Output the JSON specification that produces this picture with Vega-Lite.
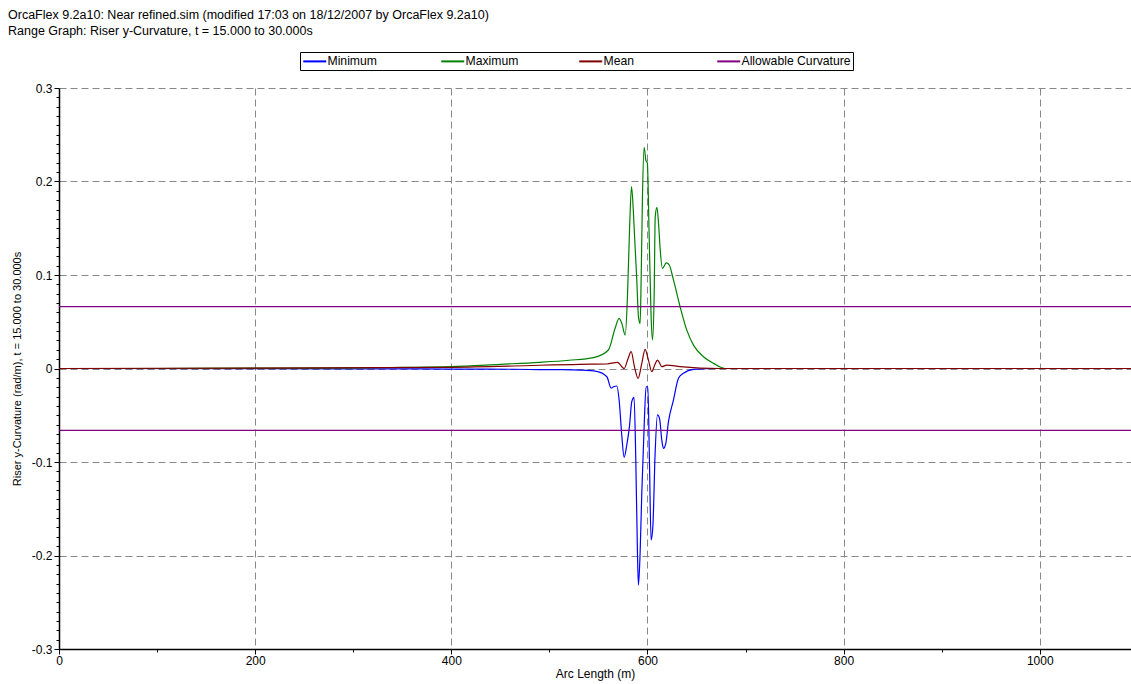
{
  "$schema": "https://vega.github.io/schema/vega-lite/v6.json",
  "width": 1072,
  "height": 561,
  "autosize": "none",
  "padding": {"left": 59, "top": 88, "right": 0, "bottom": 35},
  "background": "white",
  "config": {"font": "Liberation Sans", "view": {"stroke": null}},
  "title": {
    "text": ["OrcaFlex 9.2a10: Near refined.sim (modified 17:03 on 18/12/2007 by OrcaFlex 9.2a10)", "Range Graph: Riser y-Curvature, t = 15.000 to 30.000s"],
    "anchor": "start", "frame": "group", "dx": -51, "offset": 14,
    "fontSize": 12.5, "fontWeight": "normal", "lineHeight": 16, "color": "black", "font": "Liberation Sans"
  },
  "data": {"values": [
    {"series": "Minimum", "p": "min", "x": 0, "y": 0},
    {"series": "Minimum", "p": "min", "x": 200, "y": -0.0001},
    {"series": "Minimum", "p": "min", "x": 300, "y": -0.0003},
    {"series": "Minimum", "p": "min", "x": 400, "y": -0.0006},
    {"series": "Minimum", "p": "min", "x": 463, "y": -0.0008},
    {"series": "Minimum", "p": "min", "x": 490, "y": -0.0012},
    {"series": "Minimum", "p": "min", "x": 514, "y": -0.0013},
    {"series": "Minimum", "p": "min", "x": 531, "y": -0.0017},
    {"series": "Minimum", "p": "min", "x": 548, "y": -0.003},
    {"series": "Minimum", "p": "min", "x": 558.6, "y": -0.0088},
    {"series": "Minimum", "p": "min", "x": 563, "y": -0.021},
    {"series": "Minimum", "p": "min", "x": 565.4, "y": -0.0195},
    {"series": "Minimum", "p": "min", "x": 568.8, "y": -0.0187},
    {"series": "Minimum", "p": "min", "x": 571.1, "y": -0.0337},
    {"series": "Minimum", "p": "min", "x": 573.9, "y": -0.073},
    {"series": "Minimum", "p": "min", "x": 576.2, "y": -0.095},
    {"series": "Minimum", "p": "min", "x": 578.9, "y": -0.0818},
    {"series": "Minimum", "p": "min", "x": 581.6, "y": -0.0622},
    {"series": "Minimum", "p": "min", "x": 584, "y": -0.0355},
    {"series": "Minimum", "p": "min", "x": 586.3, "y": -0.0308},
    {"series": "Minimum", "p": "min", "x": 588.1, "y": -0.0979},
    {"series": "Minimum", "p": "min", "x": 589.8, "y": -0.1977},
    {"series": "Minimum", "p": "min", "x": 590.8, "y": -0.2316},
    {"series": "Minimum", "p": "min", "x": 592.5, "y": -0.197},
    {"series": "Minimum", "p": "min", "x": 594.2, "y": -0.1335},
    {"series": "Minimum", "p": "min", "x": 596.6, "y": -0.0622},
    {"series": "Minimum", "p": "min", "x": 598.6, "y": -0.0195},
    {"series": "Minimum", "p": "min", "x": 600.4, "y": -0.0195},
    {"series": "Minimum", "p": "min", "x": 602, "y": -0.098},
    {"series": "Minimum", "p": "min", "x": 603.7, "y": -0.1834},
    {"series": "Minimum", "p": "min", "x": 605.5, "y": -0.169},
    {"series": "Minimum", "p": "min", "x": 607.8, "y": -0.0907},
    {"series": "Minimum", "p": "min", "x": 610.2, "y": -0.0497},
    {"series": "Minimum", "p": "min", "x": 612.3, "y": -0.0533},
    {"series": "Minimum", "p": "min", "x": 614.6, "y": -0.0765},
    {"series": "Minimum", "p": "min", "x": 616.3, "y": -0.0854},
    {"series": "Minimum", "p": "min", "x": 618.7, "y": -0.08},
    {"series": "Minimum", "p": "min", "x": 621.4, "y": -0.0569},
    {"series": "Minimum", "p": "min", "x": 626.5, "y": -0.0337},
    {"series": "Minimum", "p": "min", "x": 631.6, "y": -0.0105},
    {"series": "Minimum", "p": "min", "x": 636.7, "y": -0.0051},
    {"series": "Minimum", "p": "min", "x": 647, "y": -0.0009},
    {"series": "Minimum", "p": "min", "x": 670, "y": 0},
    {"series": "Minimum", "p": "min", "x": 1093, "y": 0},
    {"series": "Maximum", "p": "max", "x": 0, "y": 0},
    {"series": "Maximum", "p": "max", "x": 100, "y": 0},
    {"series": "Maximum", "p": "max", "x": 200, "y": 0.0003},
    {"series": "Maximum", "p": "max", "x": 300, "y": 0.0007},
    {"series": "Maximum", "p": "max", "x": 350, "y": 0.0012},
    {"series": "Maximum", "p": "max", "x": 400, "y": 0.002},
    {"series": "Maximum", "p": "max", "x": 450, "y": 0.0045},
    {"series": "Maximum", "p": "max", "x": 490, "y": 0.0066},
    {"series": "Maximum", "p": "max", "x": 520, "y": 0.0088},
    {"series": "Maximum", "p": "max", "x": 545, "y": 0.0116},
    {"series": "Maximum", "p": "max", "x": 560.2, "y": 0.0198},
    {"series": "Maximum", "p": "max", "x": 567, "y": 0.043},
    {"series": "Maximum", "p": "max", "x": 571.1, "y": 0.0537},
    {"series": "Maximum", "p": "max", "x": 573.9, "y": 0.048},
    {"series": "Maximum", "p": "max", "x": 577.3, "y": 0.0358},
    {"series": "Maximum", "p": "max", "x": 579.6, "y": 0.077},
    {"series": "Maximum", "p": "max", "x": 581.7, "y": 0.148},
    {"series": "Maximum", "p": "max", "x": 583.7, "y": 0.1945},
    {"series": "Maximum", "p": "max", "x": 585.7, "y": 0.166},
    {"series": "Maximum", "p": "max", "x": 586.7, "y": 0.1446},
    {"series": "Maximum", "p": "max", "x": 589.1, "y": 0.0947},
    {"series": "Maximum", "p": "max", "x": 590.8, "y": 0.0554},
    {"series": "Maximum", "p": "max", "x": 592.5, "y": 0.048},
    {"series": "Maximum", "p": "max", "x": 593.6, "y": 0.098},
    {"series": "Maximum", "p": "max", "x": 594.9, "y": 0.184},
    {"series": "Maximum", "p": "max", "x": 596.6, "y": 0.2366},
    {"series": "Maximum", "p": "max", "x": 598.3, "y": 0.223},
    {"series": "Maximum", "p": "max", "x": 599.9, "y": 0.2195},
    {"series": "Maximum", "p": "max", "x": 601.6, "y": 0.148},
    {"series": "Maximum", "p": "max", "x": 603.7, "y": 0.0554},
    {"series": "Maximum", "p": "max", "x": 605.1, "y": 0.0305},
    {"series": "Maximum", "p": "max", "x": 606.8, "y": 0.077},
    {"series": "Maximum", "p": "max", "x": 607.9, "y": 0.162},
    {"series": "Maximum", "p": "max", "x": 609.6, "y": 0.1724},
    {"series": "Maximum", "p": "max", "x": 611.3, "y": 0.155},
    {"series": "Maximum", "p": "max", "x": 613, "y": 0.1267},
    {"series": "Maximum", "p": "max", "x": 615.3, "y": 0.107},
    {"series": "Maximum", "p": "max", "x": 619.1, "y": 0.113},
    {"series": "Maximum", "p": "max", "x": 622.2, "y": 0.1107},
    {"series": "Maximum", "p": "max", "x": 626.5, "y": 0.0947},
    {"series": "Maximum", "p": "max", "x": 633.3, "y": 0.066},
    {"series": "Maximum", "p": "max", "x": 640.1, "y": 0.041},
    {"series": "Maximum", "p": "max", "x": 646.9, "y": 0.025},
    {"series": "Maximum", "p": "max", "x": 657.1, "y": 0.0126},
    {"series": "Maximum", "p": "max", "x": 667.3, "y": 0.0055},
    {"series": "Maximum", "p": "max", "x": 679, "y": 0},
    {"series": "Maximum", "p": "max", "x": 1093, "y": 0},
    {"series": "Mean", "p": "mean", "x": 0, "y": 0},
    {"series": "Mean", "p": "mean", "x": 200, "y": 0.0003},
    {"series": "Mean", "p": "mean", "x": 328, "y": 0.001},
    {"series": "Mean", "p": "mean", "x": 395, "y": 0.0013},
    {"series": "Mean", "p": "mean", "x": 463, "y": 0.0027},
    {"series": "Mean", "p": "mean", "x": 531, "y": 0.0045},
    {"series": "Mean", "p": "mean", "x": 558.6, "y": 0.0048},
    {"series": "Mean", "p": "mean", "x": 569.4, "y": 0.0066},
    {"series": "Mean", "p": "mean", "x": 576.2, "y": 0},
    {"series": "Mean", "p": "mean", "x": 580, "y": 0.01},
    {"series": "Mean", "p": "mean", "x": 583.4, "y": 0.018},
    {"series": "Mean", "p": "mean", "x": 586.7, "y": 0.002},
    {"series": "Mean", "p": "mean", "x": 590.5, "y": -0.0105},
    {"series": "Mean", "p": "mean", "x": 594.2, "y": 0.0055},
    {"series": "Mean", "p": "mean", "x": 597.6, "y": 0.0205},
    {"series": "Mean", "p": "mean", "x": 601, "y": 0.009},
    {"series": "Mean", "p": "mean", "x": 604.4, "y": -0.0034},
    {"series": "Mean", "p": "mean", "x": 607.5, "y": 0.004},
    {"series": "Mean", "p": "mean", "x": 610.2, "y": 0.009},
    {"series": "Mean", "p": "mean", "x": 614.7, "y": 0.002},
    {"series": "Mean", "p": "mean", "x": 619.8, "y": 0.0037},
    {"series": "Mean", "p": "mean", "x": 633.3, "y": 0.002},
    {"series": "Mean", "p": "mean", "x": 674, "y": 0},
    {"series": "Mean", "p": "mean", "x": 1093, "y": 0},
    {"series": "Allowable Curvature", "p": "upper", "x": 0, "y": 0.0662},
    {"series": "Allowable Curvature", "p": "upper", "x": 1093, "y": 0.0662},
    {"series": "Allowable Curvature", "p": "lower", "x": 0, "y": -0.0662},
    {"series": "Allowable Curvature", "p": "lower", "x": 1093, "y": -0.0662}
  ]},
  "mark": {"type": "line", "strokeWidth": 1.2, "clip": true, "interpolate": "monotone"},
  "encoding": {
    "x": {
      "field": "x", "type": "quantitative",
      "scale": {"domain": [0, 1093], "nice": false, "zero": false},
      "axis": {
        "values": [0, 100, 200, 300, 400, 500, 600, 700, 800, 900, 1000],
        "title": "Arc Length (m)", "titleFontSize": 12, "titleFontWeight": "normal", "titleColor": "black", "titlePadding": 2,
        "labelFontSize": 12, "labelColor": "black", "labelPadding": 1, "labelFlush": false, "labelOverlap": false,
        "labelExpr": "datum.value % 200 == 0 ? toString(datum.value) : ''",
        "tickColor": "black",
        "tickSize": {"condition": {"test": "datum.value % 200 == 0", "value": 5}, "value": 3},
        "domainColor": "black", "domainWidth": 1.5,
        "grid": true, "gridDash": [7, 4], "gridColor": "#888888",
        "gridOpacity": {"condition": {"test": "datum.value % 200 == 0 && datum.value > 0", "value": 1}, "value": 0}
      }
    },
    "y": {
      "field": "y", "type": "quantitative",
      "scale": {"domain": [-0.3, 0.3], "nice": false, "zero": false},
      "axis": {
        "values": [-0.3, -0.29, -0.28, -0.27, -0.26, -0.25, -0.24, -0.23, -0.22, -0.21, -0.2, -0.19, -0.18, -0.17, -0.16, -0.15, -0.14, -0.13, -0.12, -0.11, -0.1, -0.09, -0.08, -0.07, -0.06, -0.05, -0.04, -0.03, -0.02, -0.01, 0, 0.01, 0.02, 0.03, 0.04, 0.05, 0.06, 0.07, 0.08, 0.09, 0.1, 0.11, 0.12, 0.13, 0.14, 0.15, 0.16, 0.17, 0.18, 0.19, 0.2, 0.21, 0.22, 0.23, 0.24, 0.25, 0.26, 0.27, 0.28, 0.29, 0.3],
        "title": "Riser y-Curvature (rad/m), t = 15.000 to 30.000s", "titleFontSize": 11, "titleFontWeight": "normal", "titleColor": "black", "titlePadding": 9,
        "labelFontSize": 12, "labelColor": "black", "labelPadding": 2, "labelFlush": false, "labelOverlap": false,
        "labelExpr": "abs(round(datum.value*100)) % 10 == 0 ? (abs(datum.value) < 0.001 ? '0' : toString(round(datum.value*10)/10)) : ''",
        "tickColor": "black",
        "tickSize": {"condition": {"test": "abs(round(datum.value*100)) % 10 == 0", "value": 5}, "value": 3},
        "domainColor": "black", "domainWidth": 1.5,
        "grid": true, "gridDash": [7, 4], "gridColor": "#888888",
        "gridOpacity": {"condition": {"test": "abs(round(datum.value*100)) % 10 == 0", "value": 1}, "value": 0}
      }
    },
    "color": {
      "field": "series", "type": "nominal",
      "scale": {"domain": ["Minimum", "Maximum", "Mean", "Allowable Curvature"], "range": ["#0000ff", "#008000", "#800000", "#800080"]},
      "legend": {
        "title": null, "orient": "none", "legendX": 241, "legendY": -36,
        "direction": "horizontal", "columns": 4, "gridAlign": "all", "columnPadding": 0,
        "symbolType": "M-1,0H3", "symbolSize": 132, "symbolStrokeWidth": 2, "symbolOffset": 0,
        "labelFont": "Liberation Sans", "labelFontSize": 12.2, "labelColor": "black", "labelOffset": 11.5, "labelLimit": 300,
        "strokeColor": "black", "padding": 2, "fillColor": "white"
      }
    },
    "detail": {"field": "p", "type": "nominal"}
  }
}
